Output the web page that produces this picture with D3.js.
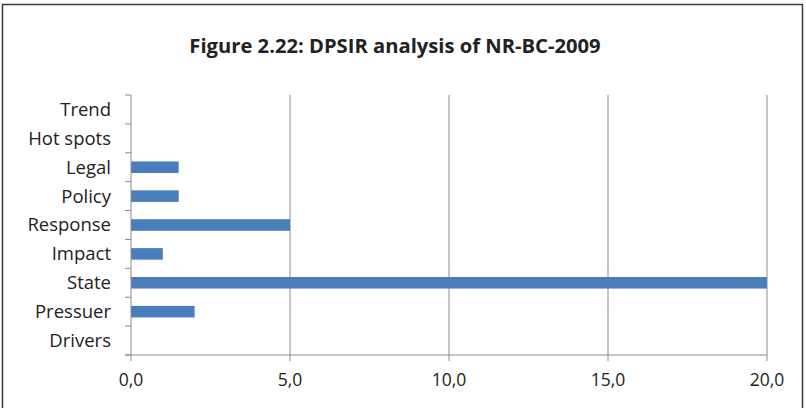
<!DOCTYPE html>
<html><head><meta charset="utf-8">
<script src="https://cdn.jsdelivr.net/npm/d3@7"></script>
<style>body{margin:0;background:#fff;}svg{display:block;}</style>
</head><body>
<svg id="c" width="806" height="408"></svg>
<script>
const categories = ["Trend","Hot spots","Legal","Policy","Response","Impact","State","Pressuer","Drivers"];
const values = [0,0,1.5,1.5,5,1,20,2,0];
const xTicks = [0,5,10,15,20];
const title = "Figure 2.22: DPSIR analysis of NR-BC-2009";

const svg = d3.select("#c");
const font = "'Open Sans', sans-serif";
svg.append("rect").attr("x",2.5).attr("y",4.5).attr("width",800).attr("height",410)
  .attr("fill","#fff").attr("stroke","#3a3a3a").attr("stroke-width",1.5);

const m = {left:131, right:767, top:95, bottom:355};
const x = d3.scaleLinear().domain([0,20]).range([m.left,m.right]);
const y = d3.scaleBand().domain(categories).range([m.top,m.bottom]).paddingInner(0.6).paddingOuter(0.3);
const yb = d3.scaleBand().domain(categories).range([m.top,m.bottom]);

// gridlines
svg.append("g").selectAll("line").data(xTicks.filter(d=>d>0)).join("line")
  .attr("x1",d=>x(d)).attr("x2",d=>x(d)).attr("y1",m.top).attr("y2",m.bottom)
  .attr("stroke","#8c8c8c").attr("stroke-width",1);

// bars
svg.append("g").selectAll("rect").data(categories).join("rect")
  .attr("x",x(0)).attr("y",d=>y(d)).attr("height",y.bandwidth())
  .attr("width",(d,i)=>x(values[i])-x(0)).attr("fill","#4a7ebb");

// y axis
const ya = svg.append("g");
ya.append("line").attr("x1",m.left).attr("x2",m.left).attr("y1",m.top).attr("y2",m.bottom).attr("stroke","#8c8c8c");
const bounds = categories.map(c=>yb(c)).concat([m.bottom]);
ya.selectAll("line.t").data(bounds).join("line").attr("class","t")
  .attr("x1",m.left-6).attr("x2",m.left).attr("y1",d=>d).attr("y2",d=>d).attr("stroke","#8c8c8c");
ya.selectAll("text").data(categories).join("text")
  .attr("x",111).attr("y",d=>yb(d)+yb.bandwidth()/2).attr("dy","0.35em")
  .attr("text-anchor","end").attr("font-family",font).attr("font-size",18.5).attr("fill","#222").text(d=>d);

// x axis
const xa = svg.append("g");
xa.append("line").attr("x1",m.left-6).attr("x2",m.right).attr("y1",m.bottom).attr("y2",m.bottom).attr("stroke","#8c8c8c");
xa.selectAll("line.t").data(xTicks).join("line").attr("class","t")
  .attr("x1",d=>x(d)).attr("x2",d=>x(d)).attr("y1",m.bottom).attr("y2",m.bottom+6).attr("stroke","#8c8c8c");
xa.selectAll("text").data(xTicks).join("text")
  .attr("x",d=>x(d)).attr("y",386).attr("text-anchor","middle")
  .attr("font-family",font).attr("font-size",17.5).attr("fill","#222")
  .text(d=>d3.format(".1f")(d).replace(".",","));

svg.append("text").attr("x",395).attr("y",53).attr("text-anchor","middle")
  .attr("font-family",font).attr("font-weight","bold").attr("font-size",20.2).attr("fill","#222").text(title);
</script>
</body></html>
